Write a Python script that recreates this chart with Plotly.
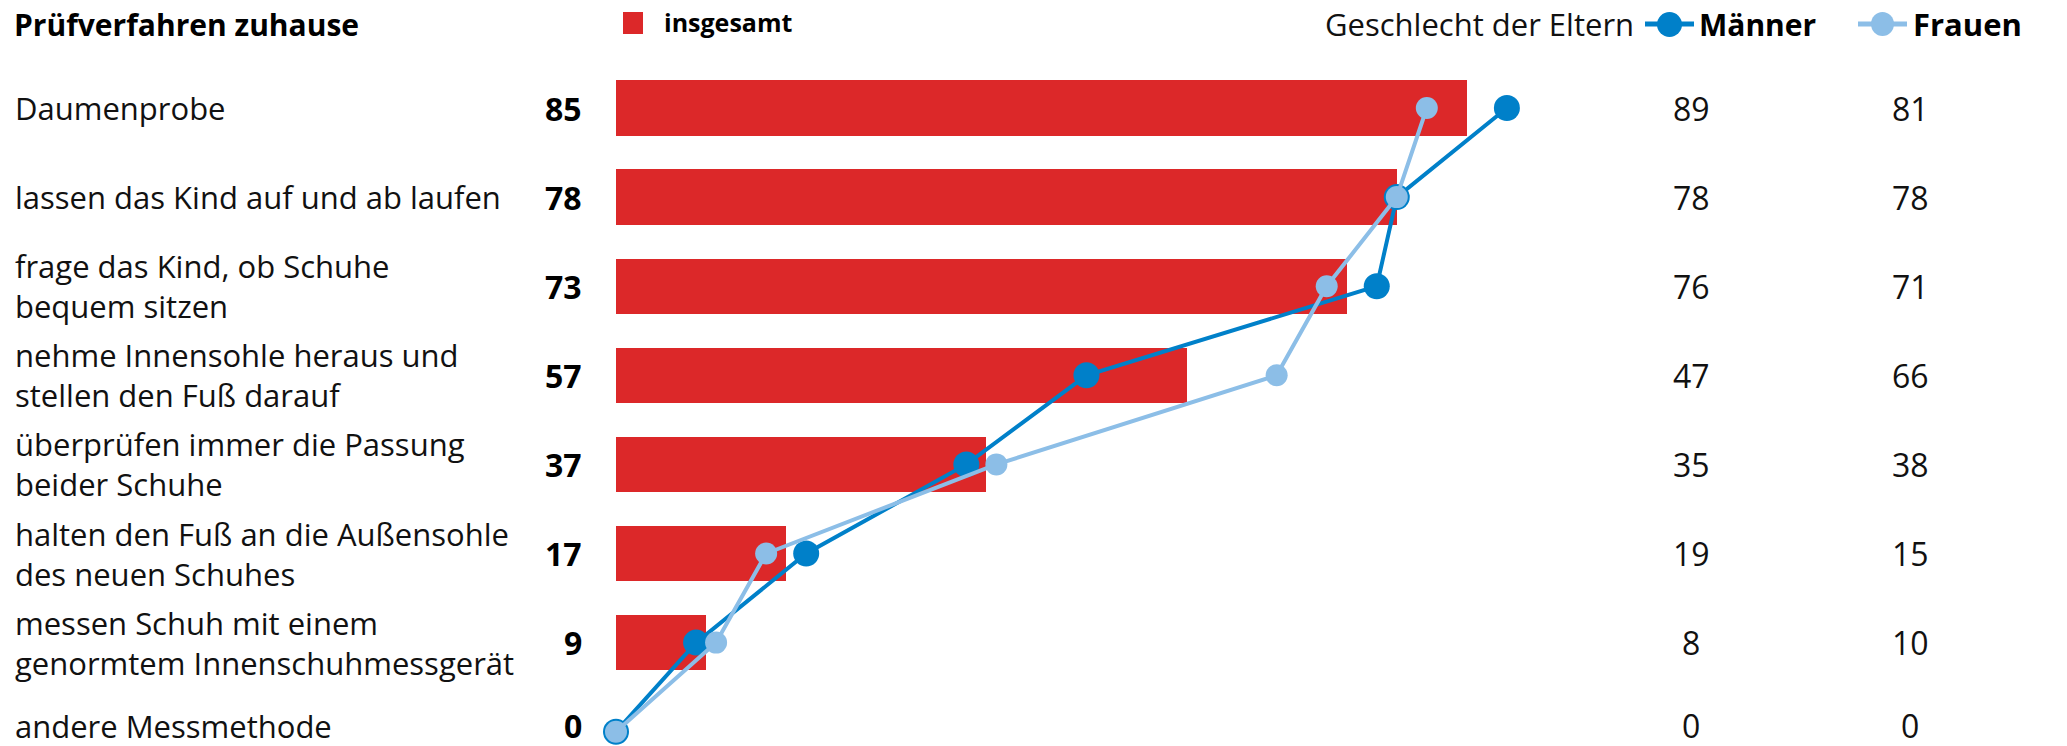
import plotly.graph_objects as go

categories = [
    "Daumenprobe",
    "lassen das Kind auf und ab laufen",
    "frage das Kind, ob Schuhe<br>bequem sitzen",
    "nehme Innensohle heraus und<br>stellen den Fuß darauf",
    "überprüfen immer die Passung<br>beider Schuhe",
    "halten den Fuß an die Außensohle<br>des neuen Schuhes",
    "messen Schuh mit einem<br>genormtem Innenschuhmessgerät",
    "andere Messmethode",
]
insgesamt = [85, 78, 73, 57, 37, 17, 9, 0]
maenner = [89, 78, 76, 47, 35, 19, 8, 0]
frauen = [81, 78, 71, 66, 38, 15, 10, 0]

RED = "#DC2829"
DARK = "#0080C9"
LIGHT = "#8CBEE7"
FONT = "Open Sans"
W, H = 2067, 746

rows = list(range(len(categories)))

fig = go.Figure()
fig.add_trace(go.Bar(
    x=insgesamt, y=rows, orientation="h", marker=dict(color=RED, line=dict(width=0)),
    width=0.62, hoverinfo="skip", showlegend=False,
))
fig.add_trace(go.Scatter(
    x=maenner, y=rows, mode="lines+markers",
    line=dict(color=DARK, width=4), marker=dict(color=DARK, size=26),
    hoverinfo="skip", showlegend=False,
))
fig.add_trace(go.Scatter(
    x=frauen, y=rows, mode="lines+markers",
    line=dict(color=LIGHT, width=4), marker=dict(color=LIGHT, size=22),
    hoverinfo="skip", showlegend=False,
))

ann = []
def px(x):
    return x / W

last = len(categories) - 1
for i, (c, v, m, f) in enumerate(zip(categories, insgesamt, maenner, frauen)):
    ys = 6 if i == last else 0
    ann.append(dict(x=px(13), y=i, xref="paper", yref="y", text=c, showarrow=False,
                    xanchor="left", yanchor="middle", align="left", yshift=ys,
                    font=dict(family=FONT, size=31, color="#111")))
    ann.append(dict(x=px(584), y=i, xref="paper", yref="y", text=f"<b>{v}</b>", showarrow=False,
                    xanchor="right", yanchor="middle", yshift=ys,
                    font=dict(family=FONT, size=32, color="#000")))
    ann.append(dict(x=px(1691), y=i, xref="paper", yref="y", text=str(m), showarrow=False,
                    xanchor="center", yanchor="middle", yshift=ys,
                    font=dict(family=FONT, size=32, color="#111")))
    ann.append(dict(x=px(1910), y=i, xref="paper", yref="y", text=str(f), showarrow=False,
                    xanchor="center", yanchor="middle", yshift=ys,
                    font=dict(family=FONT, size=32, color="#111")))

# header
HY = 1 - 24 / H
ann.append(dict(x=px(12), y=HY, xref="paper", yref="paper", text="<b>Prüfverfahren zuhause</b>",
                showarrow=False, xanchor="left", yanchor="middle",
                font=dict(family=FONT, size=30, color="#000")))
ann.append(dict(x=px(662), y=1 - 22 / H, xref="paper", yref="paper", text="<b>insgesamt</b>",
                showarrow=False, xanchor="left", yanchor="middle",
                font=dict(family=FONT, size=25, color="#000")))
ann.append(dict(x=px(1636), y=HY, xref="paper", yref="paper", text="Geschlecht der Eltern",
                showarrow=False, xanchor="right", yanchor="middle",
                font=dict(family=FONT, size=31, color="#111")))
ann.append(dict(x=px(1697), y=HY, xref="paper", yref="paper", text="<b>Männer</b>",
                showarrow=False, xanchor="left", yanchor="middle",
                font=dict(family=FONT, size=30, color="#000")))
ann.append(dict(x=px(1911), y=HY, xref="paper", yref="paper", text="<b>Frauen</b>",
                showarrow=False, xanchor="left", yanchor="middle",
                font=dict(family=FONT, size=31, color="#000")))

shapes = [
    dict(type="rect", xref="paper", yref="paper", x0=px(623), x1=px(643),
         y0=1 - 34 / H, y1=1 - 12 / H, fillcolor=RED, line=dict(width=0)),
    dict(type="line", xref="paper", yref="paper", x0=px(1645), x1=px(1694),
         y0=HY, y1=HY, line=dict(color=DARK, width=5)),
    dict(type="circle", xref="paper", yref="paper", x0=px(1657), x1=px(1682),
         y0=1 - 37 / H, y1=1 - 12 / H, fillcolor=DARK, line=dict(width=0)),
    dict(type="line", xref="paper", yref="paper", x0=px(1858), x1=px(1907),
         y0=HY, y1=HY, line=dict(color=LIGHT, width=5)),
    dict(type="circle", xref="paper", yref="paper", x0=px(1871), x1=px(1894),
         y0=1 - 36 / H, y1=1 - 12 / H, fillcolor=LIGHT, line=dict(width=0)),
]

x0px = 616.0
ppu = 10.01
xr = [-x0px / ppu, (W - x0px) / ppu]
ypitch = 89.1
y0px = 108.0
yr = [(H - y0px) / ypitch, -y0px / ypitch]

fig.update_layout(
    width=W, height=H, margin=dict(l=0, r=0, t=0, b=0),
    paper_bgcolor="white", plot_bgcolor="white",
    xaxis=dict(range=xr, visible=False, fixedrange=True),
    yaxis=dict(range=yr, visible=False, fixedrange=True),
    annotations=ann, shapes=shapes, showlegend=False, bargap=0,
)
fig.write_html(
    "out.html",
    config={"displayModeBar": False},
    post_script="document.body.style.margin='0';document.body.style.overflow='hidden';",
)
